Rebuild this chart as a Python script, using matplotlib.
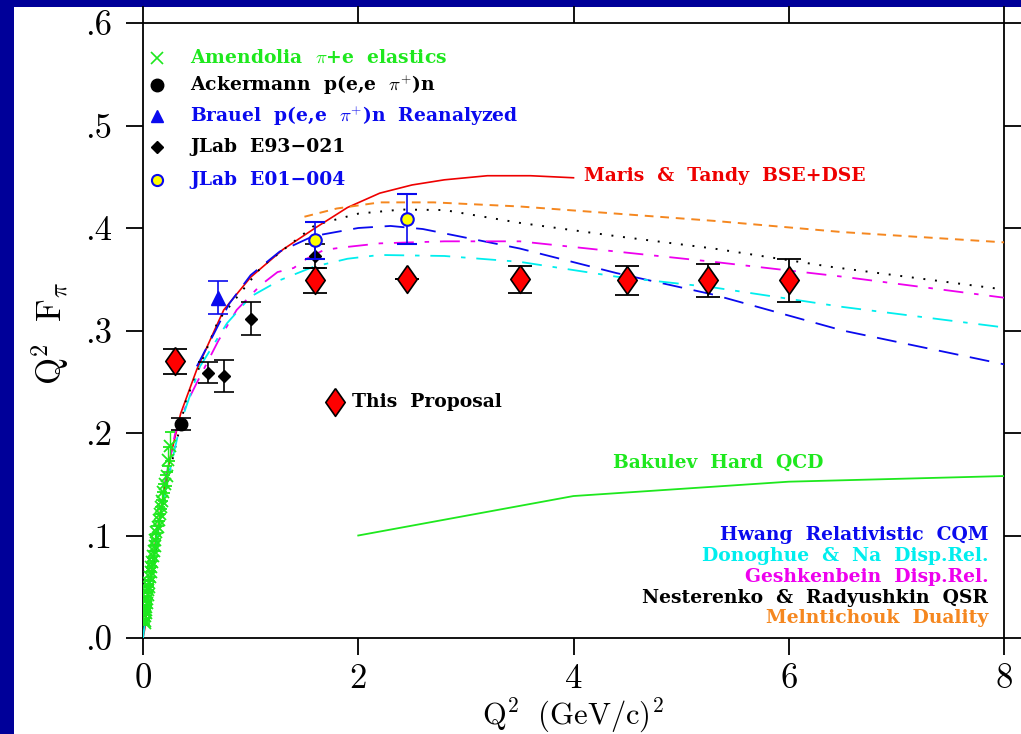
import matplotlib
matplotlib.use('Agg')
import matplotlib.pyplot as plt
from matplotlib.patches import Rectangle

plt.rcParams['mathtext.fontset'] = 'cm'

# ---- data ----
# Amendolia pi+e elastics
amen_q2 = [0.015, 0.018, 0.021, 0.025, 0.028, 0.032, 0.036, 0.040, 0.045, 0.050,
           0.055, 0.060, 0.066, 0.072, 0.078, 0.085, 0.092, 0.100, 0.108, 0.116,
           0.125, 0.135, 0.145, 0.155, 0.165, 0.175, 0.190, 0.205, 0.220, 0.235, 0.250]
amen_val = [0.0145, 0.017, 0.021, 0.024, 0.027, 0.030, 0.034, 0.038, 0.042, 0.047,
            0.050, 0.054, 0.060, 0.064, 0.069, 0.074, 0.080, 0.085, 0.090, 0.096,
            0.103, 0.108, 0.115, 0.121, 0.128, 0.134, 0.142, 0.150, 0.158, 0.174, 0.187]
amen_err = [0.002, 0.002, 0.002, 0.002, 0.002, 0.002, 0.003, 0.003, 0.003, 0.003,
            0.003, 0.003, 0.004, 0.004, 0.004, 0.004, 0.005, 0.005, 0.005, 0.005,
            0.006, 0.006, 0.006, 0.007, 0.007, 0.008, 0.008, 0.009, 0.010, 0.012, 0.014]

acker_q2 = [0.35]
acker_val = [0.209]
acker_err = [0.006]

brauel_q2 = [0.7]
brauel_val = [0.332]
brauel_err = [0.016]

e93_q2 = [0.6, 0.75, 1.0, 1.6]
e93_val = [0.259, 0.2556, 0.3115, 0.3727]
e93_err = [0.010, 0.016, 0.016, 0.012]

e01_q2 = [1.6, 2.45]
e01_val = [0.388, 0.4085]
e01_err = [0.018, 0.0245]

prop_q2 = [0.3, 1.6, 2.45, 3.5, 4.5, 5.25, 6.0]
prop_val = [0.270, 0.349, 0.350, 0.350, 0.349, 0.349, 0.349]
prop_err = [0.012, 0.012, 0.0, 0.013, 0.014, 0.016, 0.021]

# model curves
maris_q2 = [0.0, 0.02, 0.05, 0.1, 0.17, 0.25, 0.35, 0.5, 0.75, 1.0, 1.3, 1.6, 1.9,
            2.2, 2.5, 2.8, 3.2, 3.6, 4.0]
maris_val = [0.0, 0.011, 0.043, 0.083, 0.128, 0.175, 0.219, 0.262, 0.320, 0.352,
             0.379, 0.400, 0.420, 0.434, 0.442, 0.447, 0.451, 0.451, 0.449]

meln_q2 = [1.5, 1.8, 2.2, 2.7, 3.5, 4.4, 5.3, 6.5, 8.0]
meln_val = [0.411, 0.419, 0.425, 0.425, 0.421, 0.414, 0.407, 0.396, 0.386]

nest_q2 = [0.05, 0.2, 0.4, 0.7, 1.1, 1.6, 2.0, 2.4, 2.8, 3.5, 4.4, 5.3, 6.4, 8.0]
nest_val = [0.040, 0.140, 0.232, 0.310, 0.362, 0.403, 0.414, 0.418, 0.4175, 0.405,
            0.392, 0.380, 0.362, 0.340]

hwang_q2 = [0.5, 0.65, 0.8, 1.0, 1.27, 1.58, 2.0, 2.3, 2.6, 3.5, 4.4, 5.3, 6.5, 8.0]
hwang_val = [0.265, 0.295, 0.326, 0.354, 0.377, 0.392, 0.400, 0.402, 0.399, 0.380,
             0.356, 0.335, 0.300, 0.267]

gesh_q2 = [0.2, 0.3, 0.42, 0.5, 0.7, 0.87, 1.09, 1.25, 1.4, 1.52, 1.68, 1.85, 2.2,
           2.8, 3.5, 4.4, 5.3, 6.5, 8.0]
gesh_val = [0.150, 0.200, 0.232, 0.249, 0.290, 0.320, 0.344, 0.357, 0.361, 0.370,
            0.3785, 0.381, 0.385, 0.387, 0.387, 0.377, 0.367, 0.3525, 0.332]

dono_q2 = [0.0, 0.05, 0.1, 0.2, 0.35, 0.53, 0.78, 1.0, 1.27, 1.58, 1.9, 2.2, 2.8,
           3.5, 4.4, 5.3, 6.5, 8.0]
dono_val = [0.0, 0.040, 0.080, 0.140, 0.210, 0.265, 0.307, 0.333, 0.349, 0.362,
            0.370, 0.3737, 0.3727, 0.367, 0.3525, 0.342, 0.323, 0.303]

bakulev_q2 = [2.0, 4.0, 6.0, 8.0]
bakulev_val = [0.100, 0.1385, 0.1525, 0.158]

xticks = [0, 2, 4, 6, 8]
xtick_labels = ['0', '2', '4', '6', '8']
yticks = [0.0, 0.1, 0.2, 0.3, 0.4, 0.5, 0.6]
ytick_labels = ['.0', '.1', '.2', '.3', '.4', '.5', '.6']

# colours
GREEN = '#1ee81e'
RED = '#ee0000'
BLUE = '#0a0aee'
CYAN = '#00eeee'
MAGENTA = '#ee00ee'
ORANGE = '#f5871f'
BG = '#000099'

fig = plt.figure(figsize=(10.21, 7.34), dpi=100)
fig.patch.set_facecolor(BG)
fig.patches.append(Rectangle((14 / 1021, 0), 1, 727 / 734, transform=fig.transFigure,
                             facecolor='white', edgecolor='none', zorder=-10))
ax = fig.add_axes([143 / 1021, 96 / 734, 861 / 1021, 615 / 734])
ax.set_xlim(0, 8)
ax.set_ylim(0, 0.6)

# curves
ax.plot(maris_q2, maris_val, color=RED, lw=1.2, zorder=3)
ax.plot(meln_q2, meln_val, color=ORANGE, lw=1.4, ls=(0, (4.5, 3.5)), zorder=3)
ax.plot(nest_q2, nest_val, color='black', lw=1.4, ls=(0, (1, 5)), zorder=3)
ax.plot(hwang_q2, hwang_val, color=BLUE, lw=1.3, ls=(0, (11, 6.5)), zorder=3)
ax.plot(gesh_q2, gesh_val, color=MAGENTA, lw=1.3, ls=(0, (11, 6, 2.5, 6)), zorder=3)
ax.plot(dono_q2, dono_val, color=CYAN, lw=1.3, ls=(0, (11, 6, 2.5, 6)), zorder=3)
ax.plot(bakulev_q2, bakulev_val, color=GREEN, lw=1.3, zorder=3)

# data
ax.errorbar(amen_q2, amen_val, yerr=amen_err, fmt='x', color=GREEN, ms=8.5, mew=1.3,
            elinewidth=1.0, capsize=3.5, capthick=1.0, zorder=4)
ax.errorbar(acker_q2, acker_val, yerr=acker_err, fmt='o', color='black', ms=9,
            elinewidth=1.2, capsize=7, capthick=1.2, zorder=5)
ax.errorbar(brauel_q2, brauel_val, yerr=brauel_err, fmt='^', color=BLUE, ms=10,
            elinewidth=1.2, capsize=7, capthick=1.2, zorder=5)
ax.errorbar(e93_q2, e93_val, yerr=e93_err, fmt='D', color='black', ms=6,
            elinewidth=1.2, capsize=7, capthick=1.2, zorder=5)
ax.errorbar(e01_q2, e01_val, yerr=e01_err, fmt='o', color=BLUE, mfc='#ffff00',
            mec=BLUE, mew=1.5, ms=9, elinewidth=1.2, capsize=7, capthick=1.2, zorder=6)

diamond = [(0, 1), (0.7, 0), (0, -1), (-0.7, 0), (0, 1)]
ax.errorbar(prop_q2, prop_val, yerr=prop_err, fmt='none', ecolor='black',
            elinewidth=1.3, capsize=8.5, capthick=1.3, zorder=6)
ax.plot(prop_q2, prop_val, ls='none', marker=diamond, ms=20, mfc='#ff0000',
        mec='black', mew=1.2, zorder=7)

# in-plot legend
tfont = dict(family='DejaVu Serif', weight='bold', size=13.5)
leg = [('x', GREEN, r'Amendolia  $\pi$+e  elastics', GREEN, 0.566),
       ('o', 'black', r'Ackermann  p(e,e  $\pi^{+}$)n', 'black', 0.5395),
       ('^', BLUE, r'Brauel  p(e,e  $\pi^{+}$)n  Reanalyzed', BLUE, 0.509),
       ('D', 'black', 'JLab  E93\u2212021', 'black', 0.479),
       ('o', BLUE, 'JLab  E01\u2212004', BLUE, 0.447)]
for mk, mc, label, tc, yy in leg:
    if label.startswith('JLab  E01'):
        ax.plot([0.13], [yy], ls='none', marker='o', ms=8, mfc='#ffff00', mec=BLUE, mew=1.5)
    elif mk == 'D':
        ax.plot([0.13], [yy], ls='none', marker='D', ms=6, color=mc)
    elif mk == 'x':
        ax.plot([0.13], [yy], ls='none', marker='x', ms=8, mew=1.2, color=mc)
    else:
        ax.plot([0.13], [yy], ls='none', marker=mk, ms=9, color=mc)
    ax.text(0.437, yy, label, color=tc, va='center', ha='left', **tfont)

ax.plot([1.78], [0.230], ls='none', marker=diamond, ms=20, mfc='#ff0000', mec='black', mew=1.2)
ax.text(1.94, 0.230, 'This  Proposal', color='black', va='center', ha='left', **tfont)

ax.text(4.1, 0.451, 'Maris  &  Tandy  BSE+DSE', color=RED, va='center', ha='left', **tfont)
ax.text(4.37, 0.1707, 'Bakulev  Hard  QCD', color=GREEN, va='center', ha='left', **tfont)

right_labels = [('Hwang  Relativistic  CQM', BLUE, 0.1005),
                ('Donoghue  &  Na  Disp.Rel.', CYAN, 0.080),
                ('Geshkenbein  Disp.Rel.', MAGENTA, 0.0598),
                ('Nesterenko  &  Radyushkin  QSR', 'black', 0.039),
                ('Melntichouk  Duality', ORANGE, 0.0195)]
for label, c, yy in right_labels:
    ax.text(7.853, yy, label, color=c, va='center', ha='right', **tfont)

# axes style
for s in ax.spines.values():
    s.set_linewidth(1.3)
ax.set_xticks(xticks)
ax.set_xticklabels(xtick_labels, family='cmr10', size=25)
ax.set_yticks(yticks)
ax.set_yticklabels(ytick_labels, family='cmr10', size=25)
ax.tick_params(direction='out', length=12, width=1.3, top=True, right=True,
               pad=6)
ax.tick_params(axis='y', pad=10)

fig.text(573 / 1021, 10 / 734, r'$\mathrm{Q^2\ \ (GeV/c)^2}$', size=22,
         ha='center', va='baseline')
fig.text(50 / 1021, 1 - 333 / 734, r'$\mathrm{Q^2\ \ F_{\pi}}$', size=25,
         rotation=90, ha='center', va='center')

fig.savefig('out.png', dpi=100, facecolor=fig.get_facecolor())
